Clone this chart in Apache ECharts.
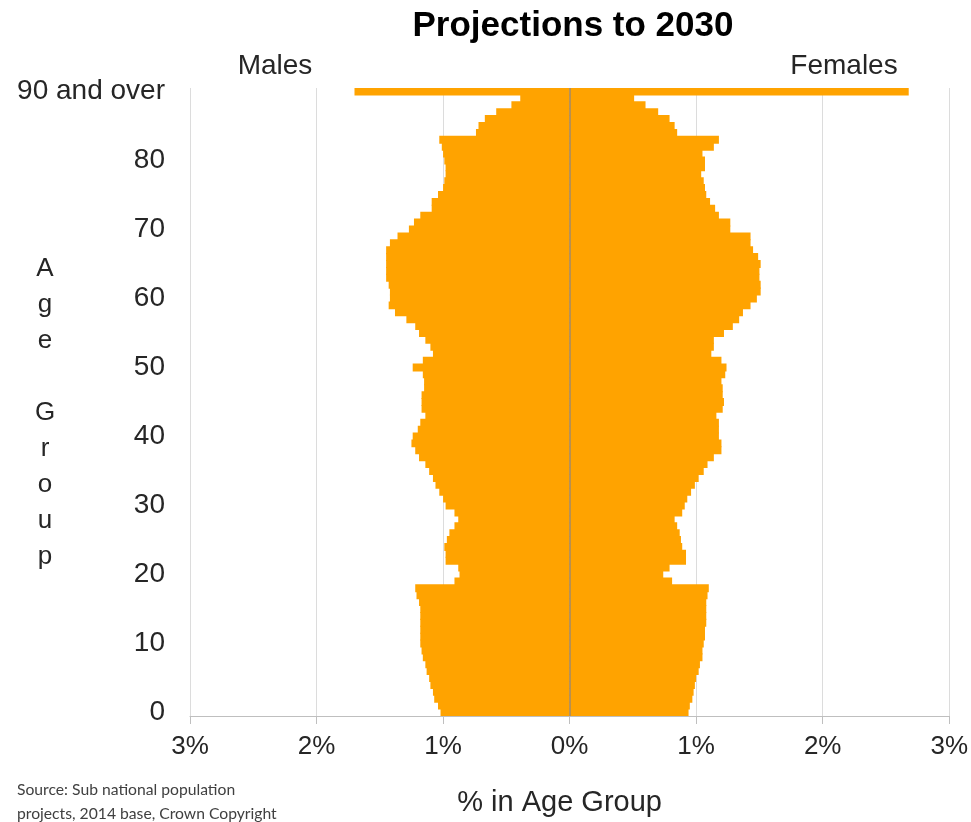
<!DOCTYPE html>
<html>
<head>
<meta charset="utf-8">
<title>Projections to 2030</title>
<script src="https://cdn.jsdelivr.net/npm/echarts@6/dist/echarts.min.js"></script>
<style>
  html, body { margin: 0; padding: 0; background: #fff; }
  #chart { width: 971px; height: 822px; }
</style>
</head>
<body>
<div id="chart"></div>
<script>
// single years of age, the last one is "90 and over"
var ages = [
  0, 1, 2, 3, 4, 5, 6, 7, 8, 9,
  10, 11, 12, 13, 14, 15, 16, 17, 18, 19,
  20, 21, 22, 23, 24, 25, 26, 27, 28, 29,
  30, 31, 32, 33, 34, 35, 36, 37, 38, 39,
  40, 41, 42, 43, 44, 45, 46, 47, 48, 49,
  50, 51, 52, 53, 54, 55, 56, 57, 58, 59,
  60, 61, 62, 63, 64, 65, 66, 67, 68, 69,
  70, 71, 72, 73, 74, 75, 76, 77, 78, 79,
  80, 81, 82, 83, 84, 85, 86, 87, 88, 89,
  90
]
var topLabel = '90 and over'

// % of population in each age
var males = [
  1.02, 1.04, 1.07, 1.08, 1.10, 1.11, 1.13, 1.14, 1.16, 1.17,
  1.18, 1.18, 1.18, 1.18, 1.18, 1.18, 1.19, 1.21, 1.22, 0.91,
  0.87, 0.88, 0.98, 0.98, 0.99, 0.97, 0.95, 0.91, 0.88, 0.91,
  0.98, 1.00, 1.03, 1.06, 1.08, 1.11, 1.14, 1.19, 1.22, 1.25,
  1.24, 1.20, 1.18, 1.14, 1.17, 1.17, 1.17, 1.15, 1.15, 1.16,
  1.24, 1.16, 1.08, 1.10, 1.14, 1.19, 1.22, 1.29, 1.38, 1.43,
  1.42, 1.42, 1.43, 1.45, 1.45, 1.45, 1.45, 1.45, 1.42, 1.36,
  1.27, 1.23, 1.18, 1.09, 1.09, 1.04, 1.00, 0.99, 0.98, 0.98,
  0.99, 1.00, 1.01, 1.03, 0.74, 0.72, 0.67, 0.58, 0.46, 0.39,
  1.70
]
var females = [
  0.94, 0.95, 0.97, 0.98, 0.99, 1.00, 1.02, 1.03, 1.05, 1.05,
  1.06, 1.07, 1.07, 1.08, 1.08, 1.08, 1.08, 1.09, 1.10, 0.81,
  0.74, 0.79, 0.92, 0.92, 0.89, 0.88, 0.87, 0.85, 0.83, 0.89,
  0.91, 0.93, 0.96, 0.99, 1.02, 1.06, 1.09, 1.14, 1.20, 1.20,
  1.18, 1.18, 1.18, 1.16, 1.21, 1.22, 1.21, 1.21, 1.20, 1.23,
  1.24, 1.20, 1.12, 1.14, 1.14, 1.22, 1.29, 1.34, 1.37, 1.43,
  1.48, 1.51, 1.51, 1.50, 1.50, 1.51, 1.49, 1.45, 1.43, 1.43,
  1.27, 1.27, 1.18, 1.15, 1.11, 1.08, 1.07, 1.06, 1.04, 1.07,
  1.07, 1.05, 1.14, 1.18, 0.85, 0.83, 0.79, 0.70, 0.60, 0.51,
  2.68
]

var barColor = '#FFA300'
var font = '"Liberation Sans", Arial, sans-serif'

var chart = echarts.init(document.getElementById('chart'))

var option = {
  animation: false,
  grid: {
    left: 190,
    right: 21,
    top: 88,
    bottom: 104
  },
  xAxis: {
    type: 'value',
    min: -3,
    max: 3,
    interval: 1,
    axisLine: { show: true, lineStyle: { color: '#bfbfbf', width: 1 } },
    axisTick: { show: true, length: 8, lineStyle: { color: '#bfbfbf' } },
    axisLabel: {
      margin: 18,
      color: '#262626',
      fontSize: 26,
      fontFamily: font,
      formatter: function (v) { return Math.abs(v) + '%' }
    },
    splitLine: { show: true, lineStyle: { color: '#dcdcdc', width: 1 } },
    name: '% in Age Group',
    nameLocation: 'middle',
    nameGap: 72,
    nameTextStyle: { color: '#262626', fontSize: 29, fontFamily: font, padding: [0, 20, 0, 0] }
  },
  yAxis: {
    type: 'category',
    data: ages,
    axisLine: { show: false },
    axisTick: { show: false },
    axisLabel: {
      margin: 25,
      color: '#262626',
      fontSize: 28,
      fontFamily: font,
      interval: function (index, value) { return Number(value) % 10 === 0 },
      formatter: function (v) { return Number(v) === 90 ? topLabel : v }
    }
  },
  series: [
    {
      name: 'Males',
      type: 'bar',
      stack: 'pop',
      barWidth: '115%',
      itemStyle: { color: barColor },
      data: males.map(function (v) { return -v })
    },
    {
      name: 'Females',
      type: 'bar',
      stack: 'pop',
      barWidth: '115%',
      itemStyle: { color: barColor },
      data: females,
      markLine: {
        silent: true,
        symbol: 'none',
        label: { show: false },
        lineStyle: { color: '#a08a6a', width: 1.5, type: 'solid' },
        data: [{ xAxis: 0 }]
      }
    }
  ],
  graphic: [
    {
      type: 'text', x: 573, y: 26,
      style: { text: 'Projections to 2030', fill: '#000', font: 'bold 35px ' + font, textAlign: 'center', textVerticalAlign: 'middle' }
    },
    {
      type: 'text', x: 275, y: 66,
      style: { text: 'Males', fill: '#262626', font: '28px ' + font, textAlign: 'center', textVerticalAlign: 'middle' }
    },
    {
      type: 'text', x: 844, y: 66,
      style: { text: 'Females', fill: '#262626', font: '28px ' + font, textAlign: 'center', textVerticalAlign: 'middle' }
    },
    {
      type: 'text', x: 45, y: 413,
      style: {
        text: 'A\ng\ne\n\nG\nr\no\nu\np',
        fill: '#262626', font: '26px ' + font, lineHeight: 36,
        textAlign: 'center', textVerticalAlign: 'middle'
      }
    },
    {
      type: 'text', x: 17, y: 778,
      style: {
        text: 'Source: Sub national population\nprojects, 2014 base, Crown Copyright',
        fill: '#404040', font: '15.7px Lato, "Open Sans", sans-serif', lineHeight: 24
      }
    }
  ]
}

chart.setOption(option)
</script>
</body>
</html>
